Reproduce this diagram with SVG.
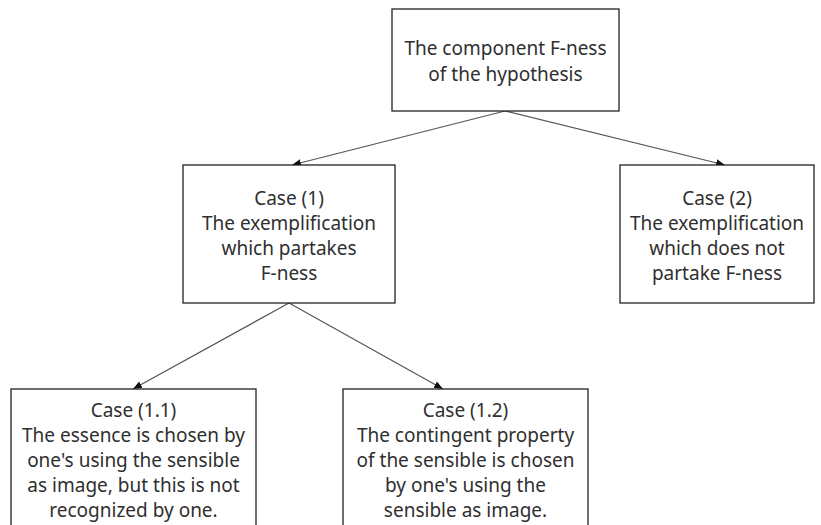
<svg xmlns="http://www.w3.org/2000/svg" width="821" height="525" viewBox="0 0 821 525">
  <style>
    .box { fill: #ffffff; stroke: #222222; stroke-width: 1.3; }
    .lbl { font-family: "Noto Sans", "Liberation Sans", sans-serif; font-size: 19px; fill: #2f2f2f; text-anchor: middle; }
    .edge { stroke: #555555; stroke-width: 1.2; fill: none; marker-end: url(#arrow); }
  </style>
  <defs>
    <marker id="arrow" viewBox="0 0 10 10" refX="10" refY="5" markerWidth="9" markerHeight="9" markerUnits="userSpaceOnUse" orient="auto">
      <path d="M0,1 L10,5 L0,9 z" fill="#111111"/>
    </marker>
  </defs>
  <rect width="821" height="525" fill="#ffffff"/>

  <g id="connectors">
    <line class="edge" x1="505" y1="111" x2="292" y2="165"/>
    <line class="edge" x1="505" y1="111" x2="725" y2="165"/>
    <line class="edge" x1="289" y1="303" x2="133" y2="389"/>
    <line class="edge" x1="289" y1="303" x2="443" y2="389"/>
  </g>

  <g id="root">
    <rect class="box" x="392" y="9" width="227" height="102"/>
    <text class="lbl" x="505.5" y="55">The component F-ness</text>
    <text class="lbl" x="505.5" y="81">of the hypothesis</text>
  </g>

  <g id="case1">
    <rect class="box" x="183" y="165" width="212" height="138"/>
    <text class="lbl" x="289" y="205">Case (1)</text>
    <text class="lbl" x="289" y="230">The exemplification</text>
    <text class="lbl" x="289" y="255">which partakes</text>
    <text class="lbl" x="289" y="280">F-ness</text>
  </g>

  <g id="case2">
    <rect class="box" x="620" y="165" width="194" height="138"/>
    <text class="lbl" x="717" y="205">Case (2)</text>
    <text class="lbl" x="717" y="230">The exemplification</text>
    <text class="lbl" x="717" y="255">which does not</text>
    <text class="lbl" x="717" y="280">partake F-ness</text>
  </g>

  <g id="case1-1">
    <rect class="box" x="11" y="389" width="245" height="150"/>
    <text class="lbl" x="133.5" y="417">Case (1.1)</text>
    <text class="lbl" x="133.5" y="442">The essence is chosen by</text>
    <text class="lbl" x="133.5" y="467">one's using the sensible</text>
    <text class="lbl" x="133.5" y="492">as image, but this is not</text>
    <text class="lbl" x="133.5" y="517">recognized by one.</text>
  </g>

  <g id="case1-2">
    <rect class="box" x="343" y="389" width="245" height="150"/>
    <text class="lbl" x="465.5" y="417">Case (1.2)</text>
    <text class="lbl" x="465.5" y="442">The contingent property</text>
    <text class="lbl" x="465.5" y="467">of the sensible is chosen</text>
    <text class="lbl" x="465.5" y="492">by one's using the</text>
    <text class="lbl" x="465.5" y="517">sensible as image.</text>
  </g>
</svg>
